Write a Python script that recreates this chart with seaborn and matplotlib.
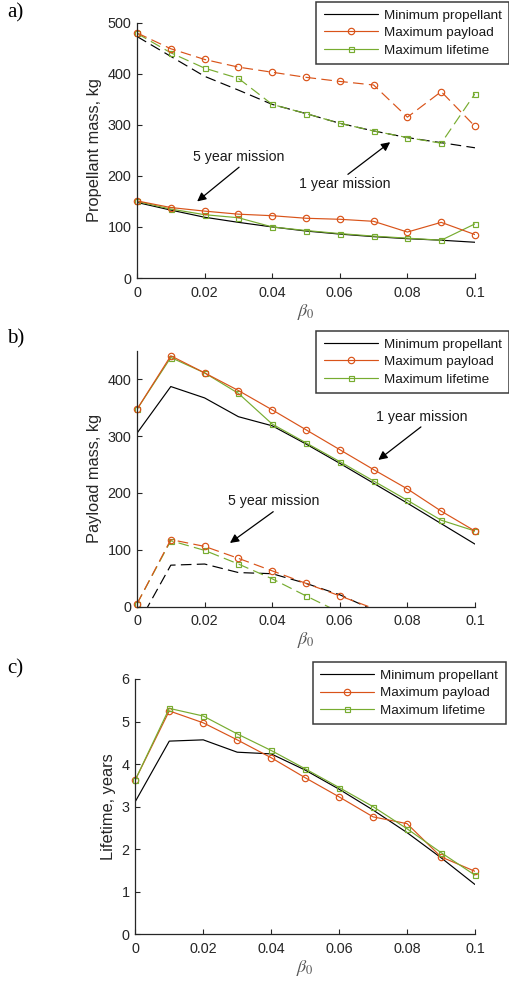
import numpy as np
import pandas as pd
import matplotlib
matplotlib.use("Agg")
import matplotlib.pyplot as plt
import seaborn as sns
from matplotlib.lines import Line2D

# ---------------- data ----------------
beta = [0.0, 0.01, 0.02, 0.03, 0.04, 0.05, 0.06, 0.07, 0.08, 0.09, 0.10]
xtick_vals = [0, 0.02, 0.04, 0.06, 0.08, 0.1]
xtick_labels = ["0", "0.02", "0.04", "0.06", "0.08", "0.1"]

series_names = ["Minimum propellant", "Maximum payload", "Maximum lifetime"]

# a) propellant mass, kg
a_min_1yr = [473, 434, 395, 368, 340, 322, 303, 288, 275, 265, 255]
a_pay_1yr = [480, 449, 428, 413, 403, 393, 385, 378, 315, 365, 297]
a_life_1yr = [479, 441, 411, 391, 340, 322, 303, 288, 275, 264, 361]
a_min_5yr = [148, 133, 119, 109, 100, 92, 86, 81, 77, 74, 70]
a_pay_5yr = [151, 138, 131, 125, 122, 117, 115, 111, 90, 109, 85]
a_life_5yr = [150, 135, 124, 118, 100, 93, 87, 82, 78, 74, 106]
a_yticks = [0, 100, 200, 300, 400, 500]

# b) payload mass, kg
b_min_1yr = [305, 387, 367, 334, 318, 286, 252, 217, 182, 146, 110]
b_pay_1yr = [347, 441, 411, 380, 346, 311, 276, 241, 207, 168, 133]
b_life_1yr = [347, 438, 411, 375, 321, 288, 255, 221, 187, 152, 133]
b_min_5yr = [-34, 73, 75, 60, 58, 41, 21, -6, np.nan, np.nan, np.nan]
b_pay_5yr = [5, 118, 106, 85, 63, 41, 19, -3, np.nan, np.nan, np.nan]
b_life_5yr = [5, 116, 99, 75, 49, 19, -10, np.nan, np.nan, np.nan, np.nan]
b_yticks = [0, 100, 200, 300, 400]

# c) lifetime, years
c_min = [3.12, 4.54, 4.57, 4.28, 4.24, 3.86, 3.41, 2.92, 2.39, 1.80, 1.17]
c_pay = [3.63, 5.25, 4.97, 4.57, 4.15, 3.68, 3.23, 2.76, 2.60, 1.82, 1.48]
c_life = [3.63, 5.31, 5.13, 4.71, 4.32, 3.89, 3.45, 3.00, 2.48, 1.92, 1.39]
c_yticks = [0, 1, 2, 3, 4, 5, 6]

# ---------------- style ----------------
sns.set_style("ticks")
plt.rcParams["font.family"] = ["Liberation Sans", "DejaVu Sans"]
plt.rcParams["mathtext.fontset"] = "stix"

BLACK = "#000000"
ORANGE = "#D95319"
GREEN = "#77AC30"
AXC = "#262626"
LW = 0.85
DASH = (0, (9, 4.5))
TICKFS = 10.4
LABFS = 11.8

fig = plt.figure(figsize=(5.10, 9.83), dpi=100)
W, H = 510.0, 983.0


def add_ax(left, right, top, bottom):
    return fig.add_axes([left / W, 1 - bottom / H, (right - left) / W, (bottom - top) / H])


def draw(ax, vals, color, marker, ls, ms, ymin):
    df = pd.DataFrame({"beta": beta, "val": vals}).dropna()
    sns.lineplot(data=df, x="beta", y="val", ax=ax, color=color, linestyle=ls,
                 lw=LW, estimator=None, sort=False)
    if marker is not None:
        vis = df[df["val"] >= ymin]
        sns.lineplot(data=vis, x="beta", y="val", ax=ax, color=color, linestyle="none",
                     marker=marker, markersize=ms, markerfacecolor="none",
                     markeredgecolor=color, markeredgewidth=0.85, estimator=None,
                     sort=False, clip_on=False)


def style_ax(ax, ylim, yticks, ylabel):
    ax.set_xlim(0, 0.1)
    ax.set_ylim(*ylim)
    ax.set_xticks(xtick_vals)
    ax.set_xticklabels(xtick_labels)
    ax.set_yticks(yticks)
    ax.set_yticklabels([str(t) for t in yticks])
    for s in ["top", "right"]:
        ax.spines[s].set_visible(False)
    for s in ["left", "bottom"]:
        ax.spines[s].set_color(AXC)
        ax.spines[s].set_linewidth(0.9)
    ax.tick_params(direction="in", length=3.5, width=0.8, colors=AXC,
                   labelsize=TICKFS, labelcolor=AXC)
    ax.tick_params(axis="x", pad=5.5)
    ax.tick_params(axis="y", pad=4)
    ax.set_ylabel(ylabel, fontsize=LABFS, color=AXC, labelpad=4)
    ax.set_xlabel(r"$\beta_0$", fontsize=13, color="#555555", labelpad=1.5)


def legend(right, top):
    handles = [
        Line2D([], [], color=BLACK, lw=LW),
        Line2D([], [], color=ORANGE, lw=LW, marker="o", ms=4.6, mfc="none", mec=ORANGE, mew=0.85),
        Line2D([], [], color=GREEN, lw=LW, marker="s", ms=3.6, mfc="none", mec=GREEN, mew=0.85),
    ]
    leg = fig.legend(handles, series_names, loc="upper right",
                     bbox_to_anchor=(right / W, 1 - top / H), borderaxespad=0,
                     fontsize=9.7, frameon=True, fancybox=False, handlelength=4.0,
                     handletextpad=0.45, labelspacing=0.38, borderpad=0.55)
    fr = leg.get_frame()
    fr.set_edgecolor("#3a3a3a")
    fr.set_linewidth(1.1)
    fr.set_facecolor("white")
    fr.set_alpha(1)
    for t in leg.get_texts():
        t.set_color("#1a1a1a")


arrow_kw = dict(arrowstyle="-|>", color="black", lw=0.9, mutation_scale=13,
                shrinkA=0, shrinkB=0)

# ---------------- panel a ----------------
ax = add_ax(137, 475, 22.7, 278)
draw(ax, a_min_1yr, BLACK, None, DASH, 0, 0)
draw(ax, a_life_1yr, GREEN, "s", DASH, 3.6, 0)
draw(ax, a_pay_1yr, ORANGE, "o", DASH, 4.6, 0)
draw(ax, a_min_5yr, BLACK, None, "-", 0, 0)
draw(ax, a_life_5yr, GREEN, "s", "-", 3.6, 0)
draw(ax, a_pay_5yr, ORANGE, "o", "-", 4.6, 0)
style_ax(ax, (0, 500), a_yticks, "Propellant mass, kg")
ax.text(0.0302, 236, "5 year mission", ha="center", va="center", fontsize=10.2, color="#1a1a1a")
ax.annotate("", xy=(0.0178, 150), xytext=(0.0302, 217), arrowprops=arrow_kw)
ax.text(0.0615, 184, "1 year mission", ha="center", va="center", fontsize=10.2, color="#1a1a1a")
ax.annotate("", xy=(0.0749, 266), xytext=(0.0624, 203), arrowprops=arrow_kw)
legend(509, 1.7)

# ---------------- panel b ----------------
ax = add_ax(137, 475, 350.7, 606.7)
draw(ax, b_min_1yr, BLACK, None, "-", 0, 0)
draw(ax, b_life_1yr, GREEN, "s", "-", 3.6, 0)
draw(ax, b_pay_1yr, ORANGE, "o", "-", 4.6, 0)
draw(ax, b_min_5yr, BLACK, None, DASH, 0, 0)
draw(ax, b_life_5yr, GREEN, "s", DASH, 3.6, 0)
draw(ax, b_pay_5yr, ORANGE, "o", DASH, 4.6, 0)
style_ax(ax, (0, 450), b_yticks, "Payload mass, kg")
ax.text(0.0843, 333, "1 year mission", ha="center", va="center", fontsize=10.2, color="#1a1a1a")
ax.annotate("", xy=(0.0714, 258), xytext=(0.084, 316), arrowprops=arrow_kw)
ax.text(0.0403, 186, "5 year mission", ha="center", va="center", fontsize=10.2, color="#1a1a1a")
ax.annotate("", xy=(0.0275, 112), xytext=(0.0403, 167), arrowprops=arrow_kw)
legend(509, 330.7)

# ---------------- panel c ----------------
ax = add_ax(135.3, 475, 679, 934.3)
draw(ax, c_min, BLACK, None, "-", 0, 0)
draw(ax, c_pay, ORANGE, "o", "-", 4.6, 0)
draw(ax, c_life, GREEN, "s", "-", 3.6, 0)
style_ax(ax, (0, 6), c_yticks, "Lifetime, years")
legend(505.7, 662)

# panel letters
for lab, y in [("a)", 12.5), ("b)", 339), ("c)", 669)]:
    fig.text(7 / W, 1 - y / H, lab, ha="left", va="center", fontsize=15,
             family=["Liberation Serif", "DejaVu Serif"], color="black")

fig.savefig("out.png", dpi=100)
